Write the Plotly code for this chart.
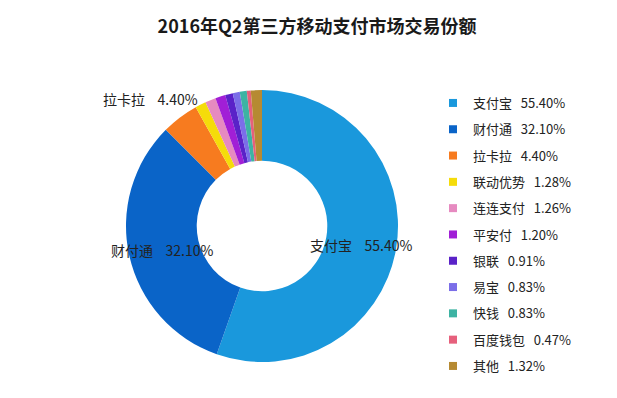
import plotly.graph_objects as go

categories = ["支付宝", "财付通", "拉卡拉", "联动优势", "连连支付", "平安付",
              "银联", "易宝", "快钱", "百度钱包", "其他"]
shares = [55.40, 32.10, 4.40, 1.28, 1.26, 1.20, 0.91, 0.83, 0.83, 0.47, 1.32]
colors = ["#1a98dc", "#0a64c8", "#f77b1f", "#f5dc0a", "#e68ac0", "#a11fd6",
          "#5a22c8", "#7b6ee8", "#3db3a3", "#e6607c", "#b68a32"]
title_text = "2016年Q2第三方移动支付市场交易份额"
labeled = ["支付宝", "财付通", "拉卡拉"]

W, H = 617, 398
OFF = 8  # page body margin offset
FONT = "Noto Sans CJK SC, Microsoft YaHei, sans-serif"
SP_LEG = "\u00a0" * 3
SP_LAB = "\u00a0" * 4


def fx(px):
    return (px - OFF) / W


def fy(py):
    return 1 - (py - OFF) / H


fig = go.Figure()

cx, cy, R = 262, 226, 136
fig.add_trace(go.Pie(
    labels=categories, values=shares, sort=False, direction="clockwise",
    rotation=0, hole=0.48, marker=dict(colors=colors, line=dict(width=0)),
    textinfo="none", showlegend=False, hoverinfo="label+percent",
    domain=dict(x=[fx(cx - R), fx(cx + R)], y=[fy(cy + R), fy(cy - R)]),
))

# legend entries (one group per category for row spacing)
for name, val, col in zip(categories, shares, colors):
    fig.add_trace(go.Scatter(
        x=[None], y=[None], mode="markers", name=f"{name}{SP_LEG}{val:.2f}%",
        marker=dict(symbol="square", size=8, color=col),
        legendgroup=name, showlegend=True, hoverinfo="skip",
    ))

# slice labels
label_pos = {"支付宝": (362, 245), "财付通": (162, 250), "拉卡拉": (150, 99)}
for name in labeled:
    i = categories.index(name)
    px, py = label_pos[name]
    fig.add_annotation(x=fx(px), y=fy(py), xref="paper", yref="paper",
                       text=f"{name}{SP_LAB}{shares[i]:.2f}%", showarrow=False,
                       font=dict(size=14, color="#222222", family=FONT),
                       xanchor="center", yanchor="middle")

fig.update_layout(
    width=W, height=H,
    margin=dict(l=0, r=0, t=0, b=0),
    paper_bgcolor="white", plot_bgcolor="white",
    font=dict(family=FONT, size=13, color="#222222"),
    title=dict(text=f"<b>{title_text}</b>", x=fx(317), xanchor="center",
               y=fy(27), yanchor="middle",
               font=dict(size=18, color="#1a1a1a", family=FONT)),
    xaxis=dict(visible=False), yaxis=dict(visible=False),
    legend=dict(x=fx(433), xanchor="left", y=fy(88), yanchor="top",
                font=dict(size=13, color="#222222", family=FONT),
                tracegroupgap=6.4, itemclick=False, bgcolor="rgba(0,0,0,0)"),
)

fig.write_html("out.html")
